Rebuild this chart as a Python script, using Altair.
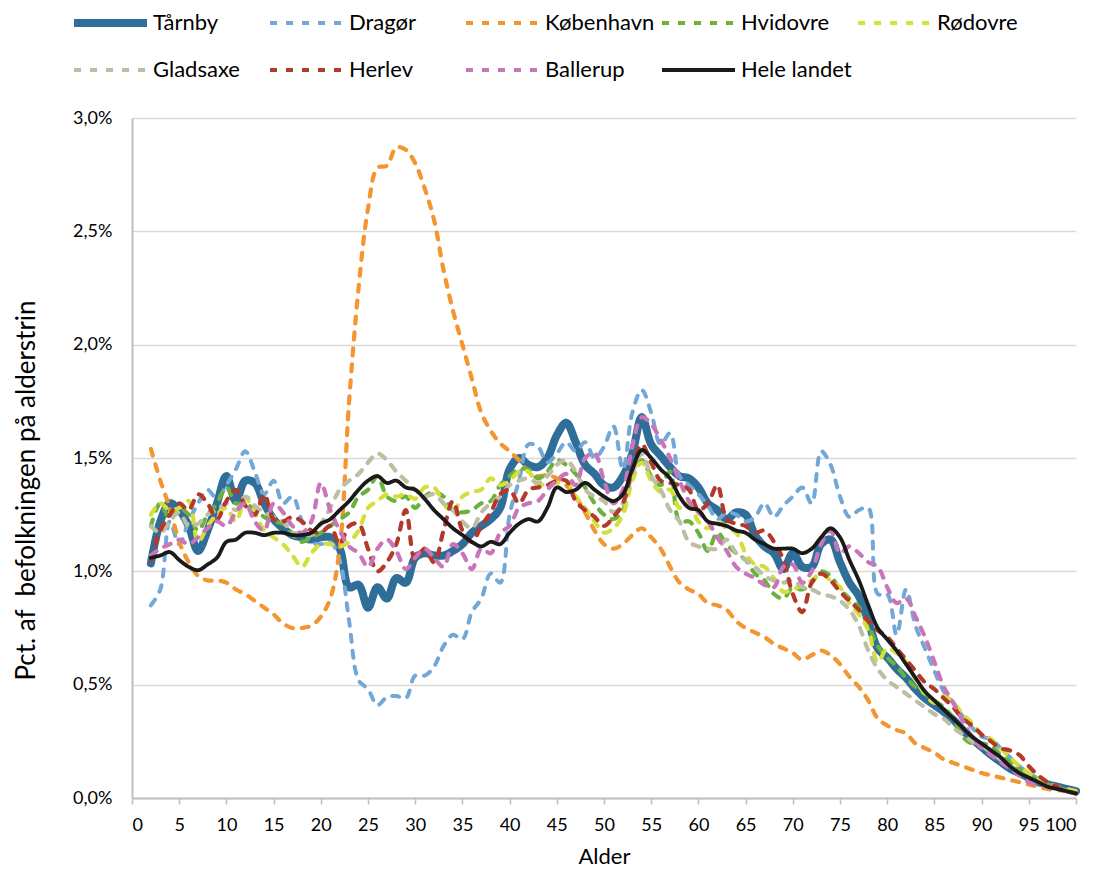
import altair as alt
import pandas as pd

ages = list(range(2, 101))

names = ["Tårnby", "Dragør", "København", "Hvidovre", "Rødovre",
         "Gladsaxe", "Herlev", "Ballerup", "Hele landet"]
colors = ["#2F6E99", "#72A8D8", "#F39530", "#69B23E", "#D5DF3A",
          "#BDBEA4", "#B5392B", "#C875B9", "#1A1A1A"]
widths = [8, 4, 4.2, 4.2, 4.2, 4.2, 4.2, 4.2, 3.8]
dashes = [[1, 0], [7, 9], [7, 9], [7, 9], [7, 9], [7, 9], [7, 9], [7, 9], [1, 0]]

taarnby = [1.035, 1.22, 1.30, 1.27, 1.20, 1.09, 1.18, 1.30, 1.42, 1.31, 1.40, 1.39, 1.30, 1.23, 1.19, 1.16, 1.15, 1.14, 1.15,
           1.15, 1.10, 0.93, 0.94, 0.84, 0.93, 0.88, 0.97, 0.95, 1.06, 1.08, 1.07, 1.07, 1.09, 1.12, 1.17, 1.20, 1.23, 1.28,
           1.45, 1.50, 1.47, 1.46, 1.50, 1.60, 1.655, 1.57, 1.47, 1.43, 1.38, 1.37, 1.42, 1.52, 1.68, 1.56, 1.51, 1.46, 1.42,
           1.41, 1.37, 1.30, 1.27, 1.23, 1.26, 1.25, 1.16, 1.11, 1.08, 1.01, 1.08, 1.02, 1.02, 1.12, 1.14, 1.04, 0.95, 0.89,
           0.78, 0.66, 0.62, 0.57, 0.53, 0.48, 0.44, 0.41, 0.38, 0.345, 0.30, 0.26, 0.225, 0.19, 0.16, 0.13, 0.11, 0.09, 0.07,
           0.06, 0.05, 0.04, 0.03]
dragoer = [0.85, 0.92, 1.22, 1.12, 1.22, 1.30, 1.36, 1.32, 1.38, 1.45, 1.53, 1.44, 1.34, 1.40, 1.30, 1.33, 1.22, 1.13, 1.12,
           1.13, 1.05, 0.78, 0.52, 0.48, 0.41, 0.445, 0.45, 0.44, 0.54, 0.54, 0.58, 0.67, 0.72, 0.70, 0.82, 0.88, 0.99, 0.95,
           1.25, 1.40, 1.56, 1.55, 1.48, 1.52, 1.57, 1.53, 1.57, 1.50, 1.55, 1.64, 1.45, 1.70, 1.80, 1.70, 1.56, 1.61, 1.42,
           1.38, 1.34, 1.29, 1.23, 1.26, 1.25, 1.22, 1.24, 1.30, 1.24, 1.29, 1.33, 1.37, 1.30, 1.53, 1.47, 1.33, 1.24, 1.27,
           1.28, 0.90, 0.90, 0.72, 0.92, 0.76, 0.66, 0.56, 0.47, 0.42, 0.36, 0.31, 0.27, 0.26, 0.22, 0.18, 0.14, 0.11, 0.085,
           0.06, 0.045, 0.035, 0.025]
koebenhavn = [1.54, 1.40, 1.28, 1.13, 1.04, 0.98, 0.96, 0.96, 0.95, 0.92, 0.90, 0.87, 0.84, 0.81, 0.77, 0.75, 0.75, 0.76,
              0.80, 0.88, 1.10, 1.75, 2.25, 2.60, 2.78, 2.79, 2.87, 2.86, 2.80, 2.69, 2.55, 2.33, 2.15, 2.00, 1.85, 1.70,
              1.62, 1.565, 1.53, 1.49, 1.44, 1.42, 1.425, 1.41, 1.38, 1.33, 1.26, 1.18, 1.12, 1.10, 1.12, 1.16, 1.19, 1.15,
              1.10, 1.02, 0.95, 0.92, 0.90, 0.86, 0.85, 0.83, 0.78, 0.75, 0.73, 0.71, 0.68, 0.66, 0.64, 0.61, 0.63, 0.65,
              0.63, 0.59, 0.535, 0.49, 0.43, 0.35, 0.32, 0.30, 0.285, 0.24, 0.22, 0.20, 0.17, 0.155, 0.14, 0.125, 0.11, 0.10,
              0.09, 0.08, 0.07, 0.06, 0.05, 0.04, 0.035, 0.03, 0.02]
hvidovre = [1.20, 1.30, 1.23, 1.28, 1.25, 1.18, 1.25, 1.30, 1.37, 1.30, 1.30, 1.27, 1.24, 1.22, 1.21, 1.16, 1.13, 1.15, 1.17,
            1.20, 1.23, 1.26, 1.33, 1.36, 1.42, 1.33, 1.31, 1.33, 1.28, 1.33, 1.35, 1.33, 1.27, 1.26, 1.27, 1.30, 1.31, 1.38,
            1.42, 1.45, 1.45, 1.41, 1.44, 1.49, 1.47, 1.43, 1.37, 1.30, 1.25, 1.23, 1.27, 1.42, 1.49, 1.42, 1.38, 1.44, 1.22,
            1.22, 1.17, 1.09, 1.17, 1.12, 1.08, 1.05, 0.99, 0.96, 0.90, 0.88, 0.93, 0.92, 0.95, 1.00, 0.98, 0.92, 0.88, 0.84,
            0.76, 0.67, 0.62, 0.58, 0.53, 0.49, 0.46, 0.43, 0.40, 0.35, 0.27, 0.24, 0.24, 0.23, 0.19, 0.16, 0.13, 0.10, 0.08,
            0.06, 0.045, 0.035, 0.025]
roedovre = [1.25, 1.30, 1.27, 1.28, 1.31, 1.13, 1.20, 1.25, 1.28, 1.22, 1.32, 1.26, 1.18, 1.15, 1.12, 1.07, 1.02, 1.08, 1.12,
            1.12, 1.11, 1.13, 1.18, 1.28, 1.31, 1.34, 1.33, 1.34, 1.32, 1.37, 1.37, 1.30, 1.26, 1.33, 1.35, 1.36, 1.41, 1.38,
            1.40, 1.44, 1.44, 1.38, 1.39, 1.39, 1.40, 1.33, 1.28, 1.22, 1.17, 1.19, 1.25, 1.40, 1.48, 1.40, 1.35, 1.36, 1.28,
            1.30, 1.22, 1.19, 1.22, 1.19, 1.17, 1.08, 1.03, 1.02, 0.97, 0.91, 0.92, 0.94, 0.96, 0.99, 0.96, 0.93, 0.86, 0.81,
            0.74, 0.60, 0.66, 0.64, 0.60, 0.52, 0.46, 0.42, 0.45, 0.42, 0.37, 0.33, 0.28, 0.26, 0.22, 0.18, 0.14, 0.11, 0.09,
            0.07, 0.05, 0.04, 0.03]
gladsaxe = [1.20, 1.17, 1.22, 1.26, 1.20, 1.21, 1.25, 1.27, 1.30, 1.27, 1.33, 1.29, 1.26, 1.24, 1.22, 1.17, 1.17, 1.16, 1.21,
            1.28, 1.36, 1.40, 1.43, 1.48, 1.52, 1.49, 1.44, 1.40, 1.36, 1.33, 1.34, 1.30, 1.27, 1.22, 1.19, 1.26, 1.30, 1.33,
            1.38, 1.40, 1.41, 1.39, 1.42, 1.47, 1.49, 1.44, 1.36, 1.33, 1.31, 1.26, 1.30, 1.43, 1.52, 1.42, 1.36, 1.27, 1.22,
            1.13, 1.11, 1.10, 1.10, 1.14, 1.08, 1.05, 1.02, 0.98, 0.96, 0.95, 0.96, 0.93, 0.92, 0.90, 0.89, 0.87, 0.83, 0.76,
            0.65, 0.57, 0.52, 0.49, 0.46, 0.43, 0.40, 0.37, 0.35, 0.31, 0.28, 0.25, 0.23, 0.20, 0.17, 0.14, 0.11, 0.09, 0.07,
            0.05, 0.04, 0.03, 0.02]
herlev = [1.05, 1.18, 1.25, 1.30, 1.27, 1.34, 1.30, 1.23, 1.31, 1.36, 1.29, 1.25, 1.34, 1.23, 1.22, 1.24, 1.22, 1.18, 1.17,
          1.20, 1.12, 1.20, 1.21, 1.10, 1.00, 1.04, 1.12, 1.27, 1.05, 1.10, 1.04, 1.18, 1.31, 1.18, 1.13, 1.20, 1.26, 1.34,
          1.36, 1.30, 1.36, 1.37, 1.38, 1.40, 1.40, 1.31, 1.27, 1.24, 1.20, 1.24, 1.30, 1.45, 1.56, 1.48, 1.40, 1.39, 1.38,
          1.36, 1.27, 1.30, 1.38, 1.23, 1.21, 1.20, 1.17, 1.18, 1.13, 1.05, 0.90, 0.82, 0.95, 0.99, 0.96, 0.91, 0.87, 0.83,
          0.78, 0.74, 0.71, 0.66, 0.61, 0.56, 0.51, 0.48, 0.44, 0.40, 0.35, 0.32, 0.28, 0.25, 0.22, 0.21, 0.19, 0.14, 0.10,
          0.07, 0.05, 0.03, 0.02]
ballerup = [1.07, 1.10, 1.12, 1.14, 1.12, 1.15, 1.19, 1.22, 1.20, 1.26, 1.30, 1.22, 1.18, 1.30, 1.26, 1.20, 1.17, 1.22, 1.39,
            1.27, 1.18, 1.11, 1.08, 1.02, 1.10, 1.14, 1.09, 1.01, 1.06, 1.10, 1.06, 1.02, 1.12, 1.08, 1.01, 1.10, 1.08, 1.17,
            1.20, 1.28, 1.30, 1.31, 1.36, 1.40, 1.43, 1.38, 1.50, 1.52, 1.40, 1.30, 1.36, 1.55, 1.68, 1.65, 1.58, 1.50, 1.40,
            1.31, 1.26, 1.22, 1.15, 1.09, 1.02, 0.99, 0.97, 0.94, 0.93, 1.02, 1.03, 0.95, 1.00, 1.12, 1.18, 1.08, 1.11, 1.08,
            1.04, 1.02, 0.93, 0.86, 0.88, 0.80, 0.71, 0.60, 0.49, 0.42, 0.34, 0.27, 0.22, 0.19, 0.16, 0.13, 0.10, 0.07, 0.06,
            0.05, 0.04, 0.03, 0.02]
hele_landet = [1.06, 1.07, 1.085, 1.05, 1.02, 1.005, 1.03, 1.06, 1.13, 1.14, 1.17, 1.17, 1.16, 1.17, 1.17, 1.16, 1.16, 1.17,
               1.21, 1.23, 1.27, 1.31, 1.36, 1.40, 1.42, 1.39, 1.40, 1.37, 1.36, 1.32, 1.27, 1.23, 1.19, 1.16, 1.13, 1.11,
               1.13, 1.12, 1.17, 1.21, 1.23, 1.22, 1.28, 1.37, 1.35, 1.36, 1.39, 1.36, 1.33, 1.31, 1.34, 1.45, 1.535, 1.50,
               1.45, 1.41, 1.33, 1.28, 1.27, 1.22, 1.21, 1.20, 1.18, 1.17, 1.14, 1.12, 1.10, 1.10, 1.10, 1.08, 1.10, 1.15,
               1.19, 1.15, 1.05, 0.96, 0.85, 0.75, 0.70, 0.65, 0.59, 0.53, 0.47, 0.43, 0.39, 0.35, 0.31, 0.27, 0.24, 0.21,
               0.18, 0.14, 0.11, 0.09, 0.07, 0.05, 0.04, 0.03, 0.02]

series = [taarnby, dragoer, koebenhavn, hvidovre, roedovre, gladsaxe, herlev, ballerup, hele_landet]

rows = []
for name, vals in zip(names, series):
    for a, v in zip(ages, vals):
        rows.append({"Kommune": name, "Alder": a, "Pct": v})
df = pd.DataFrame(rows)

FONT = "Lato"
leg = alt.Legend(
    title=None, orient="none", legendX=-62, legendY=-106, columns=5, direction="horizontal",
    symbolType="stroke", symbolSize=5329, clipHeight=22,
    labelFont=FONT, labelFontSize=22, labelColor="#000000", labelOffset=2,
    gridAlign="all", columnPadding=2, rowPadding=25, labelLimit=250,
)

chart = alt.Chart(df).mark_line(interpolate="catmull-rom", strokeCap="round", strokeJoin="round").encode(
    x=alt.X("Alder:Q", scale=alt.Scale(domain=[0, 100], nice=False),
            axis=alt.Axis(values=list(range(0, 101, 5)), title="Alder", grid=False,
                          labelFont=FONT, labelFontSize=18, labelColor="#000000", labelPadding=12,
                          tickSize=6, tickColor="#BFBFBF", tickWidth=1.5,
                          domainColor="#BFBFBF", domainWidth=2,
                          titleFont=FONT, titleFontSize=22, titleFontWeight="normal", titleColor="#000000",
                          titleY=58, titleBaseline="middle")),
    y=alt.Y("Pct:Q", scale=alt.Scale(domain=[0, 3], nice=False),
            axis=alt.Axis(values=[0, 0.5, 1, 1.5, 2, 2.5, 3],
                          labelExpr="replace(format(datum.value, '.1f'), '.', ',') + '%'",
                          title="Pct. af\u00a0 befolkningen på alderstrin",
                          ticks=False, labelPadding=20, labelFont=FONT, labelFontSize=18, labelColor="#000000",
                          gridColor="#D9D9D9", gridWidth=1.5, domainColor="#BFBFBF", domainWidth=2,
                          titleFont=FONT, titleFontSize=26, titleFontWeight="normal", titleColor="#000000",
                          titleX=-106, titleY=372, titleBaseline="middle", titleAlign="center", titleAngle=-90)),
    color=alt.Color("Kommune:N", scale=alt.Scale(domain=names, range=colors), legend=leg, sort=names),
    strokeDash=alt.StrokeDash("Kommune:N", scale=alt.Scale(domain=names, range=dashes), legend=leg, sort=names),
    strokeWidth=alt.StrokeWidth("Kommune:N", scale=alt.Scale(type="ordinal", domain=names, range=widths),
                                legend=leg, sort=names),
).properties(
    width=944, height=680,
    autosize=alt.AutoSizeParams(type="none"),
    padding={"left": 124, "top": 110, "right": 10, "bottom": 72},
).configure_view(stroke=None)

chart.save("out.html", embed_options={"renderer": "svg", "actions": False})
